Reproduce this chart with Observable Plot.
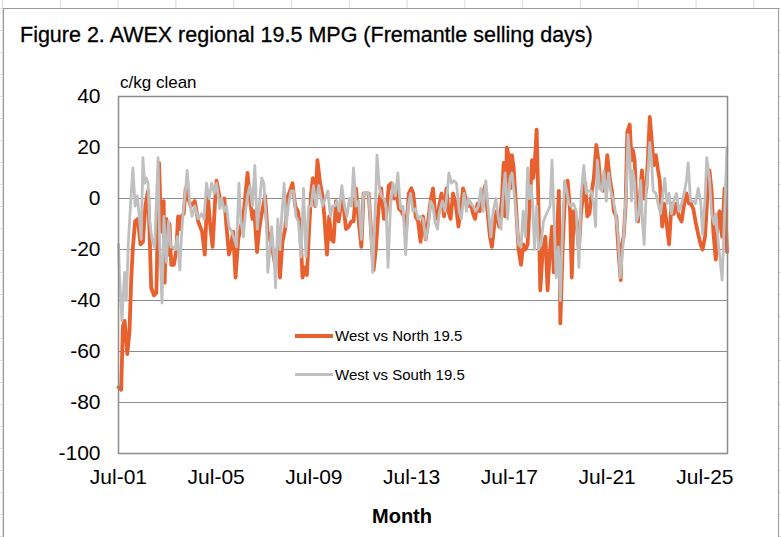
<!DOCTYPE html>
<html>
<head>
<meta charset="utf-8">
<script src="https://cdn.jsdelivr.net/npm/d3@7"></script>
<script src="https://cdn.jsdelivr.net/npm/@observablehq/plot@0.6"></script>
<style>
  html, body { margin: 0; padding: 0; }
  body {
    width: 781px; height: 537px; overflow: hidden; position: relative;
    font-family: "Liberation Sans", Arial, sans-serif;
    background-color: #fff;
    background-image: linear-gradient(to right, #dcdcdc 1px, transparent 1px),
                      linear-gradient(to bottom, #dcdcdc 1px, transparent 1px);
    background-size: 57.8px 22px;
    background-position: 2px 8px;
  }
  #frame { position: absolute; left: 3px; top: 8px; width: 774px; height: 540px; border: 1px solid #9a9a9a; background: #fff; }
  .txt { position: absolute; white-space: nowrap; line-height: 1; color: #000; }
  #title { left: 20px; top: 25px; font-size: 21.5px; -webkit-text-stroke: 0.3px #000; }
  #ylab { left: 120px; top: 74px; font-size: 17px; }
  #xlab { left: 0; width: 804px; text-align: center; top: 506px; font-size: 20px; font-weight: bold; }
  #chart { position: absolute; left: 0; top: 60px; }
  .leg { position: absolute; font-size: 15px; line-height: 1; white-space: nowrap; }
  .leg .sw { position: absolute; left: 0; width: 38px; }
  .leg span { position: absolute; left: 40px; top: 0; }
</style>
</head>
<body>
<div id="frame"></div>
<div class="txt" id="title">Figure 2. AWEX regional 19.5 MPG (Fremantle selling days)</div>
<div class="txt" id="ylab">c/kg clean</div>
<div class="txt" id="xlab">Month</div>
<div id="chart"></div>
<div id="legend"></div>
<script>
// ---- data (time in decimal years, values in c/kg clean) ----
const seriesNames = ["West vs North 19.5", "West vs South 19.5"];
const seriesColors = ["#E8602D", "#BFBFBF"];
const yTicks = [-100, -80, -60, -40, -20, 0, 20, 40];
const xTickYears = [2001, 2005, 2009, 2013, 2017, 2021, 2025];
const xDomainYears = [2001.5, 2026.42];

const northTime = [
  2001.50,2001.61,2001.68,2001.75,2001.86,2001.95,2002.02,2002.09,2002.18,2002.29,2002.40,2002.50,2002.60,2002.71,2002.77,2002.84,2002.95,
  2003.05,2003.16,2003.25,2003.35,2003.39,2003.46,2003.53,2003.59,2003.66,2003.77,2003.87,2003.94,2004.00,2004.07,2004.17,2004.25,2004.35,
  2004.46,2004.62,2004.76,2004.92,2005.03,2005.14,2005.24,2005.35,2005.44,2005.51,2005.65,
  2005.74,2005.83,2005.92,2006.02,2006.10,2006.19,2006.29,2006.40,2006.51,2006.61,2006.70,2006.78,2006.88,2006.98,2007.06,2007.17,2007.26,
  2007.36,2007.50,2007.60,2007.70,2007.80,2007.91,2008.02,2008.11,2008.21,2008.32,2008.43,2008.52,2008.62,2008.73,2008.84,2008.93,2009.03,
  2009.14,2009.21,2009.30,2009.38,2009.45,2009.55,2009.64,2009.75,
  2009.85,2009.93,2010.03,2010.12,2010.21,2010.30,2010.40,2010.51,2010.62,2010.71,2010.81,2010.92,2011.03,2011.12,2011.22,2011.33,2011.44,
  2011.53,2011.63,2011.74,2011.85,2011.94,2012.04,2012.15,2012.25,2012.36,2012.45,2012.56,2012.67,2012.77,2012.86,2012.97,2013.08,2013.18,
  2013.27,2013.38,2013.48,2013.56,2013.66,2013.76,2013.86,
  2013.96,2014.07,2014.18,2014.27,2014.37,2014.45,2014.55,2014.64,2014.72,2014.82,2014.92,2015.00,2015.09,2015.19,2015.30,2015.41,2015.50,
  2015.60,2015.71,2015.81,2015.91,2016.01,2016.09,2016.19,2016.28,2016.39,2016.50,2016.60,2016.70,2016.78,2016.87,2016.97,2017.08,2017.19,
  2017.26,2017.32,2017.39,2017.46,2017.53,2017.60,2017.67,2017.76,2017.87,2017.97,
  2018.06,2018.15,2018.24,2018.34,2018.42,2018.47,2018.54,2018.61,2018.68,2018.76,2018.86,2018.97,2019.06,2019.13,2019.24,2019.31,2019.41,
  2019.52,2019.58,2019.68,2019.78,2019.88,2019.98,2020.05,2020.13,2020.23,2020.34,2020.43,2020.50,2020.60,2020.68,2020.77,2020.87,2020.95,
  2021.05,2021.14,2021.23,2021.32,2021.42,2021.50,2021.60,2021.69,2021.77,2021.87,2021.97,2022.05,
  2022.08,2022.17,2022.25,2022.32,2022.42,2022.49,2022.55,2022.62,2022.69,2022.76,2022.83,2022.92,2023.01,2023.10,2023.17,2023.24,2023.31,
  2023.40,2023.49,2023.58,2023.65,2023.75,2023.83,2023.92,2024.03,2024.13,2024.22,2024.33,2024.43,2024.54,2024.65,2024.74,2024.84,2024.92,
  2025.02,2025.11,2025.22,2025.32,2025.40,2025.50,2025.59,2025.68,2025.77,2025.84,2025.94,2026.02,2026.09,2026.20,2026.30,2026.40
];
const northValue = [
  -74,-75,-50,-48,-61,-52,-32,-19,-9,-8,-18,-17,-3,3,-13,-35,-38,
  -37,14,-13,-1,-33,-8,-22,-10,-26,-26,-20,-7,-12,-7,-6,4,0,
  -3,-1,-9,-13,-22,3,-9,-19,-3,7,0,
  -1,0,-11,-22,-19,-13,-31,-16,-11,-7,2,10,0,-8,-5,-21,-12,
  -6,1,-13,-16,-20,-26,-19,-31,-17,-12,1,3,6,-3,-5,-11,-31,
  -27,-30,-12,2,8,-3,15,6,
  1,-8,-22,-7,-16,-17,-1,-9,-1,-3,-12,-11,-9,-9,4,-9,-19,
  2,2,2,-15,-28,-19,-3,4,-8,-7,5,6,0,4,-4,-5,-7,
  -12,2,4,2,-7,-9,-17,
  -7,-16,-8,-1,4,-5,-8,-2,2,-7,4,-5,-8,2,-2,-11,-5,
  4,0,-3,-2,-6,-8,-2,-5,0,5,-5,-15,-19,-11,-5,-11,0,
  14,-7,20,17,4,17,12,-2,-20,-26,
  -18,-20,-18,0,15,8,15,27,-1,-36,-20,-15,-36,-24,-11,-29,-23,
  3,-49,-18,2,7,-5,-31,-5,-8,-20,-5,0,6,-7,-6,3,8,
  21,15,4,3,8,17,8,3,-5,-7,-22,-32,
  -19,-15,-3,26,29,15,19,15,-2,-9,0,11,0,4,17,32,24,
  13,17,11,7,-11,-2,-9,-18,-2,-6,-2,-7,-9,-2,2,-2,-2,
  -4,-9,-14,-18,-20,-15,0,11,3,-13,-24,-9,-5,-15,4,-21
];

const southTime = [
  2001.50,2001.54,2001.64,2001.75,2001.82,2001.91,2001.99,2002.09,2002.18,2002.27,2002.36,2002.43,2002.50,2002.57,2002.64,2002.71,2002.77,
  2002.87,2002.98,2003.12,2003.18,2003.28,2003.36,2003.46,2003.55,2003.64,2003.73,2003.83,2003.91,2004.01,2004.07,2004.14,2004.24,2004.31,
  2004.42,2004.51,2004.62,2004.76,2004.90,2005.00,2005.10,2005.21,2005.31,2005.42,2005.51,2005.65,
  2005.72,2005.83,2005.92,2006.02,2006.13,2006.24,2006.33,2006.43,2006.51,2006.61,2006.70,2006.78,2006.88,2006.98,2007.08,2007.18,2007.26,
  2007.36,2007.45,2007.56,2007.61,2007.70,2007.77,2007.87,2007.93,2008.02,2008.11,2008.18,2008.28,2008.36,2008.45,2008.56,2008.66,2008.76,
  2008.86,2008.97,2009.07,2009.17,2009.28,2009.38,2009.48,2009.58,2009.69,
  2009.85,2009.96,2010.07,2010.17,2010.26,2010.34,2010.44,2010.53,2010.64,2010.75,2010.85,2010.95,2011.03,2011.12,2011.22,2011.33,2011.44,
  2011.53,2011.63,2011.74,2011.81,2011.90,2012.01,2012.08,2012.18,2012.26,2012.36,2012.45,2012.53,2012.63,2012.73,2012.83,2012.93,2013.04,
  2013.14,2013.25,2013.35,2013.45,2013.55,2013.66,2013.76,2013.86,
  2013.96,2014.07,2014.18,2014.27,2014.37,2014.45,2014.55,2014.64,2014.75,2014.86,2014.96,2015.02,2015.13,2015.23,2015.33,2015.44,2015.53,
  2015.64,2015.74,2015.82,2015.91,2016.01,2016.12,2016.23,2016.33,2016.42,2016.53,2016.64,2016.74,2016.83,2016.94,2017.05,2017.15,2017.24,
  2017.32,2017.42,2017.52,2017.60,2017.69,2017.79,2017.87,2017.97,
  2018.06,2018.15,2018.24,2018.31,2018.38,2018.45,2018.52,2018.61,2018.69,2018.79,2018.89,2018.97,2019.06,2019.16,2019.24,2019.34,2019.41,
  2019.50,2019.58,2019.65,2019.75,2019.84,2019.93,2020.02,2020.12,2020.23,2020.34,2020.43,2020.54,2020.64,2020.73,2020.84,2020.94,2021.02,
  2021.09,2021.19,2021.28,2021.36,2021.46,2021.55,2021.64,2021.73,2021.83,2021.94,
  2022.03,2022.12,2022.21,2022.28,2022.35,2022.42,2022.49,2022.55,2022.62,2022.69,2022.79,2022.87,2022.94,2023.01,2023.10,2023.17,2023.24,
  2023.31,2023.38,2023.49,2023.58,2023.68,2023.76,2023.85,2023.95,2024.03,2024.13,2024.22,2024.33,2024.43,2024.54,2024.64,2024.74,2024.81,
  2024.91,2025.02,2025.11,2025.22,2025.32,2025.40,2025.50,2025.57,2025.68,2025.77,2025.87,2025.95,2026.05,2026.20,2026.40
];
const southValue = [
  -18,-30,-48,-29,-40,-16,-3,12,-3,1,-8,-16,16,6,8,6,-8,
  -16,-19,16,-16,-41,-7,-25,-9,-19,-19,-20,-15,-28,-16,-6,3,11,
  -2,-7,-3,-8,-6,-8,6,0,6,2,6,-4,
  0,-5,-3,-11,-13,-16,-19,6,-9,-15,-5,1,5,-3,13,-12,-3,
  8,6,-11,-29,-20,-11,-24,-35,-8,-20,-7,6,-11,-3,3,3,-7,
  -9,-23,4,-23,-3,-3,5,-3,5,
  -3,0,3,-7,-3,-3,-1,-5,5,-3,-7,0,-3,12,-3,-1,-16,
  2,2,2,-9,-29,-3,17,4,1,0,-3,-27,-3,6,1,10,-4,
  -3,-22,-3,2,-5,-4,-8,-7,
  -8,-16,-11,-1,-3,-9,-12,-5,-1,-5,3,10,6,7,6,-5,-8,
  2,-5,0,-2,-3,-5,-3,4,-5,7,-5,-15,-5,0,-8,-12,2,
  10,-8,8,10,2,-8,-18,-19,
  -5,-15,12,0,5,-2,-20,-3,-20,-18,-9,-7,-5,-3,15,-12,-31,
  -19,-40,-18,7,3,-2,-3,-2,-5,-27,2,13,2,3,3,-2,-11,
  15,4,3,11,-1,10,3,0,-5,-14,
  -31,-22,-9,4,25,17,-1,11,6,-9,-6,7,-9,-18,4,11,22,
  15,3,2,-2,-6,0,8,-2,2,-6,-1,2,-5,-2,2,7,14,
  -1,-1,-2,4,-1,-14,0,16,8,-6,-10,-6,-18,-32,20
];

// ---- helpers ----
function yearToDate(t) {
  const y = Math.floor(t);
  const a = Date.UTC(y, 0, 1), b = Date.UTC(y + 1, 0, 1);
  return new Date(a + (t - y) * (b - a));
}
const north = northTime.map((t, i) => ({date: yearToDate(t), value: northValue[i]}));
const south = southTime.map((t, i) => ({date: yearToDate(t), value: southValue[i]}));
const xTicks = xTickYears.map(y => new Date(Date.UTC(y, 6, 1)));
const fmt = d => "Jul-" + String(d.getUTCFullYear() % 100).padStart(2, "0");

const chart = Plot.plot({
  width: 781,
  height: 477,
  marginLeft: 118,
  marginRight: 54,
  marginTop: 36,
  marginBottom: 84,
  style: {fontFamily: "'Liberation Sans', Arial, sans-serif", fontSize: "21px", color: "#000", background: "transparent", overflow: "visible"},
  x: {type: "utc", domain: xDomainYears.map(yearToDate), ticks: xTicks, tickFormat: fmt, tickSize: 0, tickPadding: 16, label: null},
  y: {domain: [-100, 40], ticks: yTicks, tickFormat: d => String(d), tickSize: 0, tickPadding: 18, label: null},
  marks: [
    Plot.gridY(yTicks, {stroke: "#8c8c8c", strokeOpacity: 1, strokeWidth: 1}),
    Plot.line(north, {x: "date", y: "value", stroke: seriesColors[0], strokeWidth: 3.8, strokeLinejoin: "round"}),
    Plot.line(south, {x: "date", y: "value", stroke: seriesColors[1], strokeWidth: 2.8, strokeLinejoin: "round"}),
    Plot.frame({stroke: "#8c8c8c", strokeWidth: 1.5})
  ]
});
document.getElementById("chart").appendChild(chart);

// legend
const legend = document.getElementById("legend");
const legTops = [328, 367];
const legWidths = [4, 3];
seriesNames.forEach((name, i) => {
  const d = document.createElement("div");
  d.className = "leg";
  d.style.left = "295px";
  d.style.top = legTops[i] + "px";
  const sw = document.createElement("div");
  sw.className = "sw";
  sw.style.background = seriesColors[i];
  sw.style.height = legWidths[i] + "px";
  sw.style.top = (7.5 - legWidths[i] / 2) + "px";
  const s = document.createElement("span");
  s.textContent = name;
  d.appendChild(sw); d.appendChild(s);
  legend.appendChild(d);
});
</script>
</body>
</html>
